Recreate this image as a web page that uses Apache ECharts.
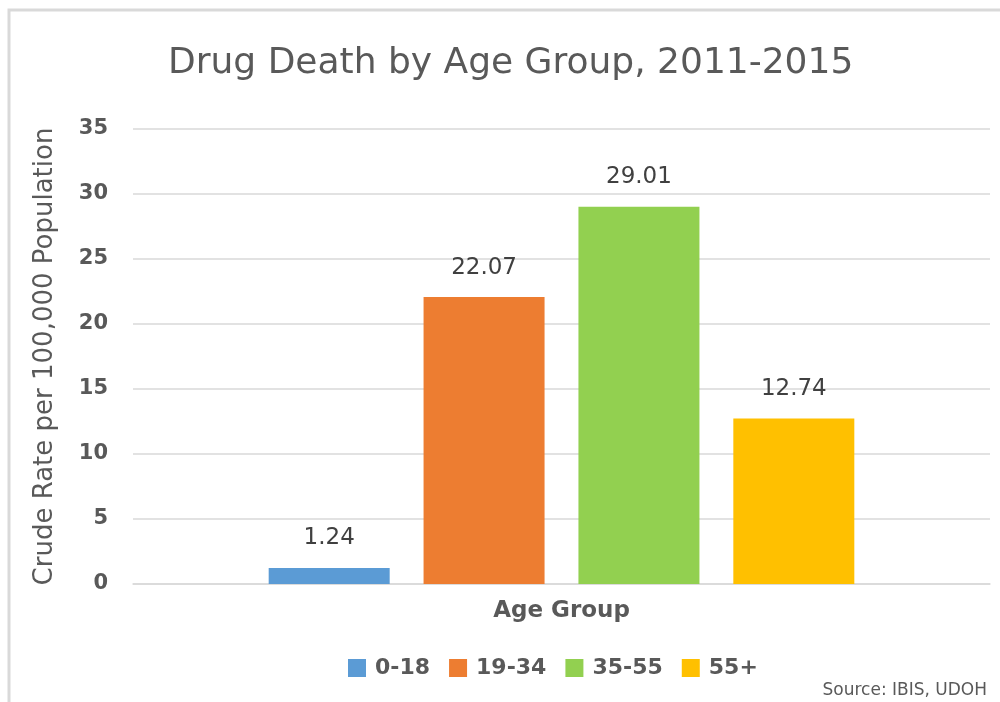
<!DOCTYPE html>
<html>
<head>
<meta charset="utf-8">
<script src="https://cdn.jsdelivr.net/npm/echarts@6/dist/echarts.min.js"></script>
<style>html,body{margin:0;padding:0;background:#fff}#c{width:1000px;height:702px}</style>
</head>
<body>
<div id="c"></div>
<script>
var categories = ['Age Group'];
var seriesNames = ['0-18', '19-34', '35-55', '55+'];
var seriesValues = [[1.24], [22.07], [29.01], [12.74]];
var colors = ['#5B9BD5', '#ED7D31', '#92D050', '#FFC000'];
var yTicks = [0, 5, 10, 15, 20, 25, 30, 35];

var FONT = 'DejaVu Sans';
var chart = echarts.init(document.getElementById('c'), null, {renderer: 'canvas'});
var series = seriesNames.map(function (n, i) {
  return {
    name: n, type: 'bar', data: seriesValues[i],
    barWidth: 121, barGap: '28%',
    itemStyle: {color: colors[i]},
    label: {show: true, position: 'top', distance: 18, color: '#404040', fontFamily: FONT, fontSize: 23,
      formatter: function (p) { return p.value.toFixed(2); }}
  };
});
chart.setOption({
  animation: false,
  backgroundColor: '#fff',
  title: {text: 'Drug Death by Age Group, 2011-2015', left: 168, top: 46, padding: 0,
    textStyle: {fontFamily: FONT, fontWeight: 'normal', fontSize: 36, color: '#595959'}},
  legend: {top: 657, left: 348, padding: 0, itemWidth: 18, itemHeight: 18, itemGap: 19, icon: 'rect',
    textStyle: {fontFamily: FONT, fontWeight: 'bold', fontSize: 22, color: '#595959', padding: [0, 0, 0, 4]}},
  grid: {left: 133, right: 10, top: 129, bottom: 118},
  xAxis: {type: 'category', data: categories,
    axisLine: {lineStyle: {color: '#d9d9d9', width: 1.5}}, axisTick: {show: false}, axisLabel: {show: false},
    name: 'Age Group', nameLocation: 'middle', nameGap: 16,
    nameTextStyle: {fontFamily: FONT, fontWeight: 'bold', fontSize: 23, color: '#595959', verticalAlign: 'top'}},
  yAxis: {type: 'value', min: yTicks[0], max: yTicks[yTicks.length - 1], interval: 5,
    splitLine: {lineStyle: {color: '#d9d9d9', width: 1.5}},
    axisLabel: {fontFamily: FONT, fontWeight: 'bold', fontSize: 21, color: '#595959', margin: 25},
    name: 'Crude Rate per 100,000 Population', nameLocation: 'middle', nameGap: 75,
    nameTextStyle: {fontFamily: FONT, fontSize: 26, color: '#595959'}},
  graphic: [
    {type: 'rect', shape: {x: 9, y: 10, width: 1000, height: 720}, style: {fill: 'none', stroke: '#d9d9d9', lineWidth: 3}, silent: true},
    {type: 'text', right: 13, top: 682, style: {text: 'Source: IBIS, UDOH', fontFamily: FONT, fontSize: 17, fill: '#595959'}}
  ],
  series: series
});
</script>
</body>
</html>
